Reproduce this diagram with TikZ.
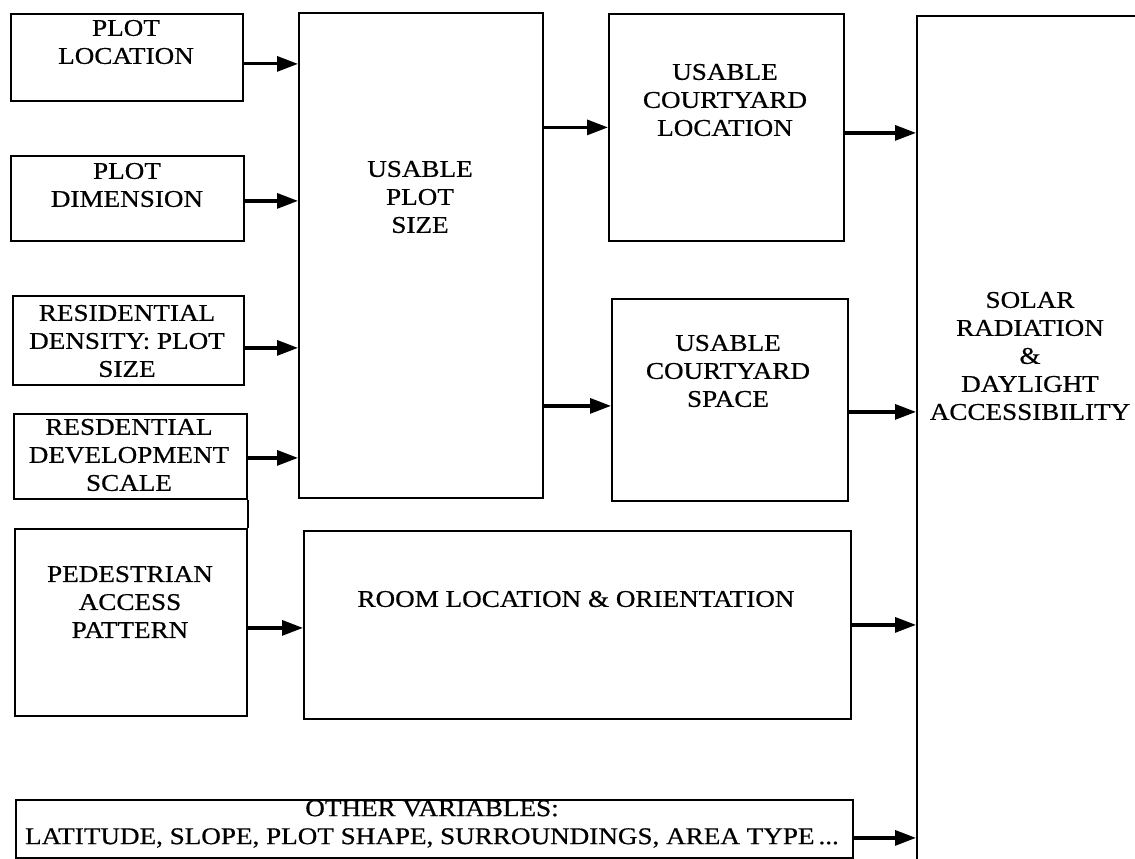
\documentclass[tikz,border=0pt]{standalone}
\usepackage{fontspec}
\setmainfont{Liberation Serif}[FakeStretch=1.13, FakeBold=0.6]
\usetikzlibrary{arrows.meta,positioning}

\begin{document}
\begin{tikzpicture}[x=1pt, y=-1pt,
  box/.style={draw, line width=1.8pt, inner sep=0pt, anchor=north west},
  lbl/.style={align=center, inner sep=0pt, font=\fontsize{24}{28}\selectfont},
  arr/.style={-{Triangle[length=21pt, width=15pt]}, line width=3.2pt}
]
\useasboundingbox (0,0) rectangle (1135,859);
\clip (0,0) rectangle (1135,859);

\node[box, minimum width=232pt, minimum height=87pt] (ploc) at (10,13) {};
\node[box, minimum width=233pt, minimum height=85pt] (pdim) at (10,155) {};
\node[box, minimum width=231pt, minimum height=89pt] (rden) at (12,295) {};
\node[box, minimum width=233pt, minimum height=85pt] (rdev) at (13,413) {};
\node[box, minimum width=232pt, minimum height=187pt] (ped) at (14,528) {};
\node[box, minimum width=244pt, minimum height=485pt] (ups) at (298,12) {};
\node[box, minimum width=235pt, minimum height=227pt] (ucl) at (608,13) {};
\node[box, minimum width=236pt, minimum height=202pt] (ucs) at (611,298) {};
\node[box, minimum width=547pt, minimum height=188pt] (room) at (303,530) {};
\node[box, minimum width=837pt, minimum height=58pt] (other) at (15,799) {};
\node[box, minimum width=221pt, minimum height=880pt] (sol) at (916,15) {};

\node[lbl] (plocT) at (126,42) {PLOT\\LOCATION};
\node[lbl] (pdimT) at (127,185) {PLOT\\DIMENSION};
\node[lbl] (rdenT) at (127,341) {RESIDENTIAL\\DENSITY: PLOT\\SIZE};
\node[lbl] (rdevT) at (129,455) {RESDENTIAL\\DEVELOPMENT\\SCALE};
\node[lbl] (pedT) at (130,602) {PEDESTRIAN\\ACCESS\\PATTERN};
\node[lbl] (upsT) at (420,197) {USABLE\\PLOT\\SIZE};
\node[lbl] (uclT) at (725,100) {USABLE\\COURTYARD\\LOCATION};
\node[lbl] (ucsT) at (728,371) {USABLE\\COURTYARD\\SPACE};
\node[lbl] (roomT) at (576,599) {ROOM LOCATION \& ORIENTATION};
\node[lbl] (otherT) at (432,824) {OTHER VARIABLES:\\LATITUDE, SLOPE, PLOT SHAPE, SURROUNDINGS, AREA TYPE\,...};
\node[lbl] (solT) at (1030,356) {SOLAR\\RADIATION\\\&\\DAYLIGHT\\ACCESSIBILITY};

% inputs to usable plot size
\draw[arr] ([yshift=-6.5pt]ploc.east) -- ([yshift=-6.5pt]ploc.east -| ups.west);
\draw[arr] ([yshift=-2.5pt]pdim.east) -- ([yshift=-2.5pt]pdim.east -| ups.west);
\draw[arr] ([yshift=-7.5pt]rden.east) -- ([yshift=-7.5pt]rden.east -| ups.west);
\draw[arr] ([yshift=-1.5pt]rdev.east) -- ([yshift=-1.5pt]rdev.east -| ups.west);
\draw[line width=1.8pt] (rdev.south east) -- (ped.north east);
\draw[arr] ([yshift=-5.5pt]ped.east) -- ([yshift=-5.5pt]ped.east -| room.west);

% courtyard
\draw[arr] (ucl.west -| ups.east) -- (ucl.west);
\draw[arr] ([yshift=-6pt]ucs.west -| ups.east) -- ([yshift=-6pt]ucs.west);

% into solar box
\draw[arr] ([yshift=-5.5pt]ucl.east) -- ([yshift=-5.5pt]ucl.east -| sol.west);
\draw[arr] ([yshift=-12pt]ucs.east) -- ([yshift=-12pt]ucs.east -| sol.west);
\draw[arr] (room.east) -- (room.east -| sol.west);
\draw[arr] ([yshift=-9pt]other.east) -- ([yshift=-9pt]other.east -| sol.west);
\end{tikzpicture}
\end{document}
